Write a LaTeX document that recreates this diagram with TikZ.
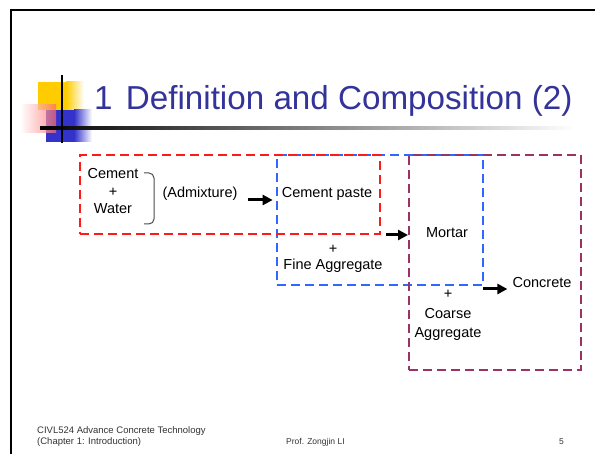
\documentclass[tikz,border=0pt]{standalone}
\usepackage{fontspec}
\setmainfont{Liberation Sans}
\usetikzlibrary{arrows.meta, positioning, calc}
\definecolor{titleblue}{HTML}{333399}
\definecolor{pastered}{HTML}{FF1A1A}
\definecolor{mortarblue}{HTML}{3366FF}
\definecolor{concretepurple}{HTML}{993366}
\definecolor{sqyellow}{HTML}{FFCC00}
\definecolor{sqpink}{HTML}{FF6666}
\definecolor{sqblue}{HTML}{3333CC}

\begin{document}
\begin{tikzpicture}[
    x=1pt, y=-1pt,
    txt/.style={inner sep=0pt, anchor=base, align=center, font=\fontsize{14.5}{17.5}\selectfont},
    mixbox/.style={draw, dash pattern=on 9pt off 5pt, line width=2pt, inner sep=0pt},
    arr/.style={-{Triangle[length=10pt, width=10pt]}, line width=3pt},
    foot/.style={inner sep=0pt, anchor=base west, text=black!80},
]
\useasboundingbox (0,0) rectangle (595,454);

% Slide frame and title
\draw[line width=2pt] (11,454) -- (11,10) -- (595,10);
\fill[sqyellow] (38,82) rectangle (66,110);
\shade[left color=sqyellow, right color=white] (66,82) rectangle (84,110);
\fill[sqblue] (46,110) rectangle (74,142);
\shade[left color=sqblue, right color=white] (74,110) rectangle (92,142);
\shade[left color=white, right color=sqpink, opacity=0.7] (20,105) rectangle (56,133);
\shade[left color=black, middle color=black!45, right color=white] (40,126.8) rectangle (575,129.2);
\draw[line width=2pt] (62,75) -- (62,143);
\node[anchor=base west, inner sep=0pt, text=titleblue, font=\fontsize{33.2}{38}\selectfont] (title) at (94,110) {1\hspace{0.4em}Definition and Composition (2)};

% Boxes
\node[mixbox, draw=mortarblue, minimum width=206pt, minimum height=130pt] (mortarbox) at (380,220) {};
\node[mixbox, draw=concretepurple, minimum width=172pt, minimum height=215pt] (concretebox) at (495,262.5) {};
\node[mixbox, draw=pastered, minimum width=300pt, minimum height=79pt] (pastebox) at (230,194.5) {};

% Nodes (base = last line)
\node[txt] (binder) at (113,214) {Cement\\+\\Water};
\node[txt] (admix) at (200,198) {(Admixture)};
\node[txt] (paste) at (327,198) {Cement paste};
\node[txt, font=\fontsize{14.5}{16}\selectfont] (fineagg) at (333,270) {+\\Fine Aggregate};
\node[txt] (mortar) at (447,238) {Mortar};
\node[txt, font=\fontsize{14.5}{19.5}\selectfont] (coarseagg) at (448,338) {+\\Coarse\\Aggregate};
\node[txt] (concrete) at (542,288) {Concrete};
\draw[gray!60!black, line width=1pt, rounded corners=5pt] (144,173) -- (154,173) -- (154,224) -- (144,224);

% Arrows
\draw[arr] ($(admix.base east)+(10,2)$) -- ($(paste.base west)+(-9,2)$);
\draw[arr] ($(pastebox.east |- mortar.base)+(5,-3)$) -- ($(concretebox.west |- mortar.base)+(0,-3)$);
\draw[arr] ($(mortarbox.east |- concrete.base)+(-1,1)$) -- ($(concrete.base west)+(-5,1)$);

% Labels
\node[foot, align=left, font=\fontsize{9.5}{11}\selectfont] (course) at (37,445) {CIVL524 Advance Concrete Technology\\(Chapter 1: Introduction)};
\node[foot, font=\fontsize{8.5}{10}\selectfont] (prof) at (286,445) {Prof. Zongjin LI};
\node[foot, font=\fontsize{8.5}{10}\selectfont] (page) at (559,445) {5};

\end{tikzpicture}
\end{document}
